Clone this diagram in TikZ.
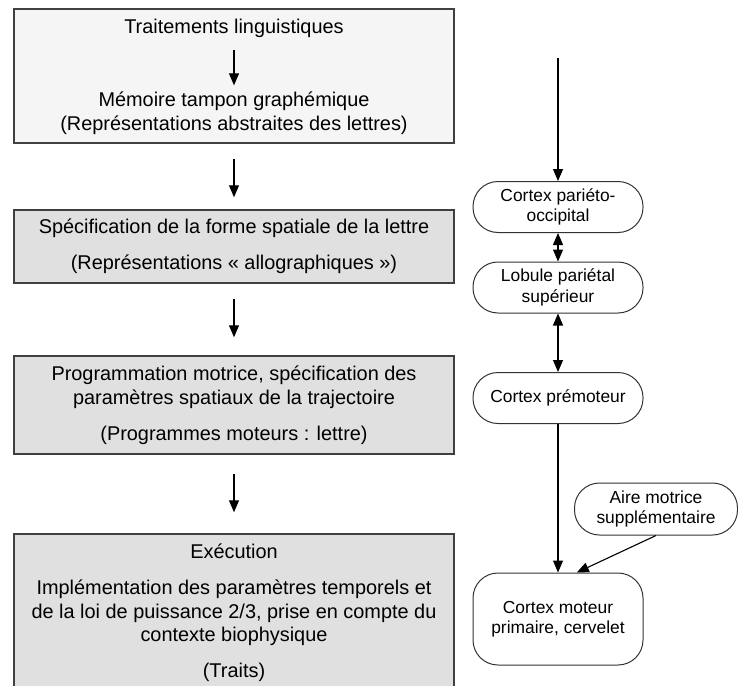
\documentclass[tikz,border=0pt]{standalone}
\usepackage{fontspec}
\setmainfont{Liberation Sans}
\usetikzlibrary{arrows.meta}

\newcommand{\boxfont}{\fontsize{19.9}{23.5}\selectfont}
\newcommand{\areafont}{\fontsize{17.4}{20.5}\selectfont}

\tikzset{
	stage/.style = {draw = black!75, line width = 1.5pt, fill = black!12, minimum width = 440pt, align = center, font = \boxfont},
	area/.style = {draw = black!80, line width = 1pt, fill = white, rounded corners = 25pt, minimum width = 170pt, minimum height = 51pt, align = center, font = \areafont, inner sep = 0pt},
	link/.style = {line width = 1.1pt, -{Triangle[width = 10pt, length = 12pt]}},
	twolink/.style = {line width = 1.1pt, {Triangle[width = 10pt, length = 12pt]}-{Triangle[width = 10pt, length = 12pt]}},
}

\begin{document}
\begin{tikzpicture}[x = 1pt, y = -1pt]
		\useasboundingbox (0,0) rectangle (738,685);
		
		% left column
		\node [stage, fill = black!4, minimum height = 134pt] (trait) at (234,76) {};
		\node [font = \boxfont] (lingu) at (234,28) {Traitements linguistiques};
		\node [font = \boxfont, align = center] (memoire) at (234,113) {Mémoire tampon graphémique\\(Représentations abstraites des lettres)};
		
		\node [stage, minimum height = 73pt] (forme) at (234,246.5) {Spécification de la forme spatiale de la lettre\\[12.5pt](Représentations « allographiques »)};
		\node [stage, minimum height = 98pt] (prog) at (234,405) {Programmation motrice, spécification des\\paramètres spatiaux de la trajectoire\\[12.5pt](Programmes moteurs : lettre)};
		\node [stage, minimum height = 158pt] (exec) at (234,613) {Exécution\\[12.5pt]Implémentation des paramètres temporels et\\de la loi de puissance 2/3, prise en compte du\\contexte biophysique\\[12.5pt](Traits)};
		
		\draw [link, shorten <= 9pt, shorten >= 3pt] (lingu) -- (memoire);
		\draw [link, shorten <= 15pt, shorten >= 12pt] (trait) -- (forme);
		\draw [link, shorten <= 15pt, shorten >= 18pt] (forme) -- (prog);
		\draw [link, shorten <= 19pt, shorten >= 21pt] (prog) -- (exec);
		
		% right column
		\coordinate (input) at (558,58);
		\node [area] (parieto) at (558,207) {Cortex pariéto-\\occipital};
		\node [area] (lobule) at (558,287.5) {Lobule pariétal\\supérieur};
		\node [area] (premot) at (558,398) {Cortex prémoteur};
		\node [area, minimum width = 163pt, minimum height = 52pt] (ams) at (656,509) {Aire motrice\\supplémentaire};
		\node [area, minimum height = 92pt] (primaire) at (558,619) {Cortex moteur\\primaire, cervelet};
		
		\draw [link] (input) -- (parieto);
		\draw [twolink] (parieto) -- (lobule);
		\draw [twolink] (lobule) -- (premot);
		\draw [link] (premot) -- (primaire);
		\draw [link] (ams.south) -- (primaire.68);
	\end{tikzpicture}
\end{document}
